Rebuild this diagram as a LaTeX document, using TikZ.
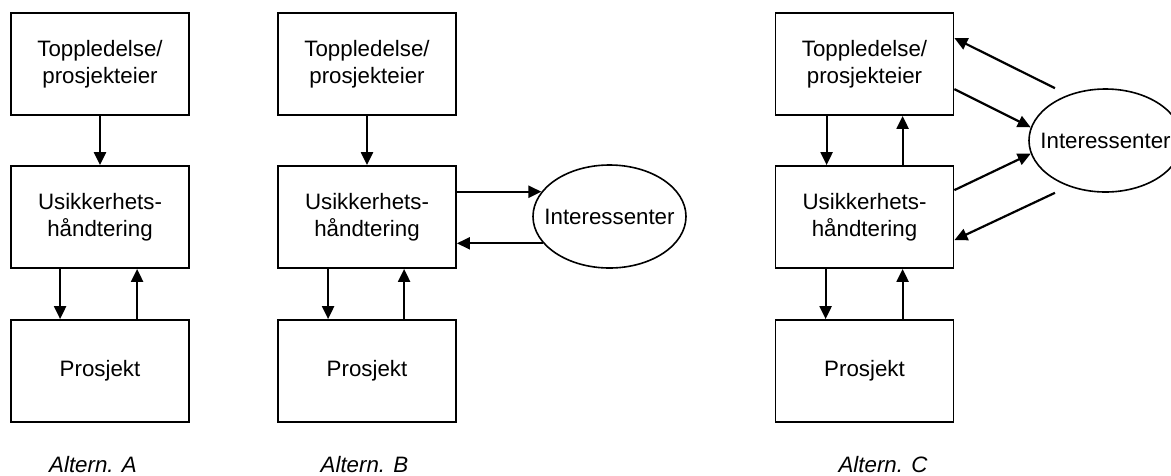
\documentclass[tikz,border=0pt]{standalone}
\usepackage{fontspec}
\setmainfont{Liberation Sans}
\usetikzlibrary{arrows.meta,shapes.geometric,calc}
\begin{document}
\begin{tikzpicture}[x=1pt,y=-1pt,
  box/.style={draw,line width=1.8pt,minimum width=178pt,minimum height=102pt,
    inner sep=0pt,align=center,font=\fontsize{22.3}{26.7}\selectfont},
  party/.style={draw,ellipse,line width=1.6pt,minimum width=153pt,minimum height=103pt,
    inner sep=0pt,font=\fontsize{22.3}{26.7}\selectfont},
  arr/.style={line width=2.2pt,-{Triangle[length=13pt,width=12pt]}},
  caption/.style={anchor=base,font=\fontsize{22.3}{26.7}\selectfont\itshape}]
\clip (0,0) rectangle (1171,475);

% Alternative A
\node[box] (aT) at (100,64)  {Toppledelse/\\prosjekteier};
\node[box] (aM) at (100,217) {Usikkerhets-\\håndtering};
\node[box] (aP) at (100,371) {Prosjekt};
\draw[arr] (aT.south) -- (aM.north);
\draw[arr] ($(aM.south west)+(50,0)$) -- ($(aP.north west)+(50,0)$);
\draw[arr] ($(aP.north west)+(127,0)$) -- ($(aM.south west)+(127,0)$);
\node[caption] (capA) at (93,472) {Altern. A};

% Alternative B
\node[box] (bT) at (367,64)  {Toppledelse/\\prosjekteier};
\node[box] (bM) at (367,217) {Usikkerhets-\\håndtering};
\node[box] (bP) at (367,371) {Prosjekt};
\node[party] (bI) at (609.5,216.5) {\makebox[0pt]{Interessenter}};
\draw[arr] (bT.south) -- (bM.north);
\draw[arr] ($(bM.south west)+(51,0)$) -- ($(bP.north west)+(51,0)$);
\draw[arr] ($(bP.north west)+(127,0)$) -- ($(bM.south west)+(127,0)$);
\draw[arr] (bM.east |- bI.160) -- (bI.160);
\draw[arr] (bI.202) -- (bM.east |- bI.202);
\node[caption] (capB) at (364.5,472) {Altern. B};

% Alternative C
\node[box] (cT) at (864.5,64)  {Toppledelse/\\prosjekteier};
\node[box] (cM) at (864.5,217) {Usikkerhets-\\håndtering};
\node[box] (cP) at (864.5,371) {Prosjekt};
\node[party] (cI) at (1105.5,140.5) {\makebox[0pt]{Interessenter}};
\draw[arr] ($(cT.south west)+(52,0)$) -- ($(cM.north west)+(52,0)$);
\draw[arr] ($(cM.north west)+(128,0)$) -- ($(cT.south west)+(128,0)$);
\draw[arr] ($(cM.south west)+(51,0)$) -- ($(cP.north west)+(51,0)$);
\draw[arr] ($(cP.north west)+(128,0)$) -- ($(cM.south west)+(128,0)$);
\coordinate (cIa) at ($(cI.north)+(-50.5,0)$);
\coordinate (cIb) at ($(cI.south)+(-50.5,0)$);
\draw[arr] (cIa) -- ($(cT.north east)+(0,26)$);
\draw[arr] ($(cT.north east)+(0,77)$) -- (cI.170);
\draw[arr] ($(cM.north east)+(0,25)$) -- (cI.190);
\draw[arr] (cIb) -- ($(cM.north east)+(0,75)$);
\node[caption] (capC) at (883,472) {Altern. C};
\end{tikzpicture}
\end{document}
